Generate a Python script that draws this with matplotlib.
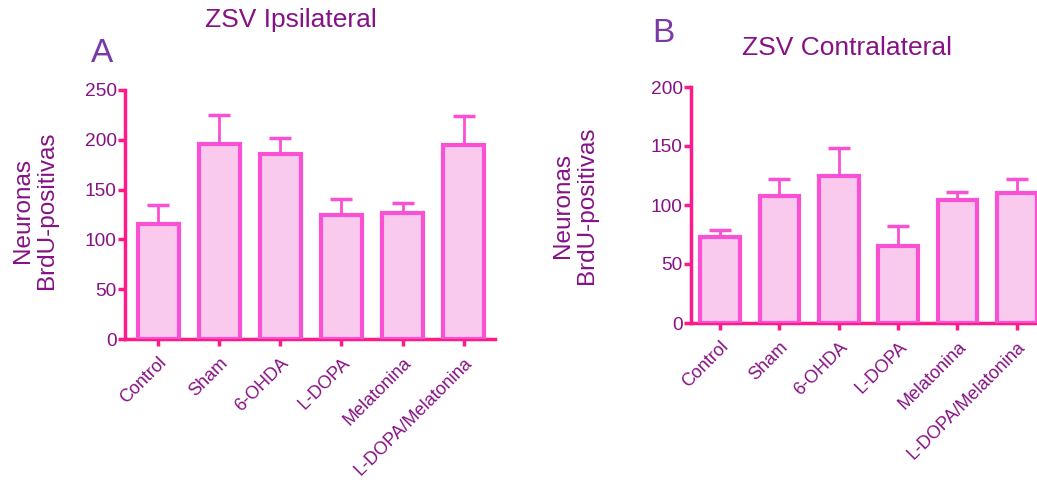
import matplotlib
matplotlib.use("Agg")
import matplotlib.pyplot as plt
import numpy as np

plt.rcParams['font.family'] = ['Liberation Sans', 'DejaVu Sans']

categories = ["Control", "Sham", "6-OHDA", "L-DOPA", "Melatonina", "L-DOPA/Melatonina"]
ipsi_mean = [115, 196, 186, 124, 127, 195]
ipsi_err = [20, 29, 16, 17, 10, 29]
contra_mean = [73, 108, 125, 65, 104, 110]
contra_err = [6, 14, 23, 17, 7, 12]
ipsi_yticks = [0, 50, 100, 150, 200, 250]
contra_yticks = [0, 50, 100, 150, 200]

TEXT = "#861285"
LETTER = "#7A3AA6"
SPINE = "#FF1A8C"
EDGE = "#FA50D4"
FILL = "#F9CAEE"

fig = plt.figure(figsize=(10.37, 4.82), dpi=100)

def panel(rect, means, errs, yticks, xlim, ylab_x, ylab_y):
    ax = fig.add_axes(rect)
    x = np.arange(len(categories))
    ax.bar(x, means, width=0.67, color=FILL, edgecolor=EDGE, linewidth=3, zorder=3)
    ax.errorbar(x, means, yerr=[np.zeros(len(errs)), errs], fmt='none',
                ecolor=EDGE, elinewidth=2, capsize=8, capthick=2.5, zorder=2)
    ax.set_xlim(*xlim)
    ax.set_ylim(0, yticks[-1])
    ax.set_yticks(yticks)
    ax.set_xticks(x)
    ax.set_xticklabels(categories, rotation=45, ha='right', va='top',
                       rotation_mode='anchor', fontsize=13, color=TEXT)
    for lab in ax.get_yticklabels():
        lab.set_color(TEXT)
        lab.set_fontsize(13.8)
    for s in ['top', 'right']:
        ax.spines[s].set_visible(False)
    for s in ['left', 'bottom']:
        ax.spines[s].set_color(SPINE)
        ax.spines[s].set_linewidth(2.5)
    ax.tick_params(axis='both', colors=SPINE, width=2.5, length=5, labelcolor=TEXT)
    ax.tick_params(axis='y', pad=1)
    ax.tick_params(axis='x', pad=6)
    ax.set_ylabel("Neuronas\nBrdU-positivas", fontsize=17.5, color=TEXT,
                  ha='center', va='center', linespacing=1.15)
    ax.yaxis.set_label_coords(ylab_x, ylab_y)
    ax.patch.set_alpha(0)
    return ax

W, H = 1037, 482
panel([125 / W, 1 - 339 / H, 370 / W, 249 / H], ipsi_mean, ipsi_err,
      ipsi_yticks, (-0.54, 5.51), -0.243, 0.518)
panel([691 / W, 1 - 323 / H, 346 / W, 236 / H], contra_mean, contra_err,
      contra_yticks, (-0.49, 5.34), -0.335, 0.5)

fig.text(291 / W, 1 - 20 / H, "ZSV Ipsilateral", fontsize=19, color=TEXT,
         ha='center', va='center')
fig.text(847 / W, 1 - 48 / H, "ZSV Contralateral", fontsize=19, color=TEXT,
         ha='center', va='center')
fig.text(102 / W, 1 - 53 / H, "A", fontsize=24, color=LETTER, ha='center', va='center')
fig.text(663 / W, 1 - 33 / H, "B", fontsize=24, color=LETTER, ha='center', va='center')

fig.savefig("out.png", dpi=100)
